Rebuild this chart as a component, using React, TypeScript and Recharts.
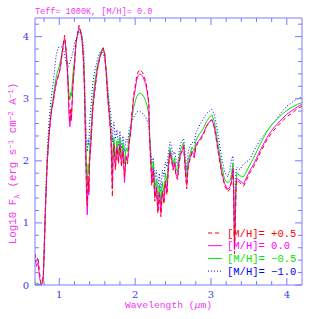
import React from 'react';
import { LineChart, Line, XAxis, YAxis } from 'recharts';

// wavelength grid in micron
const wavelength = [
  0.68, 0.70, 0.72, 0.74, 0.76, 0.78, 0.79, 0.80, 0.82, 0.84,
  0.86, 0.88, 0.90, 0.92, 0.94, 0.96, 0.98, 1.00, 1.02, 1.04,
  1.06, 1.07, 1.08, 1.10, 1.11, 1.12, 1.13, 1.14, 1.15, 1.16,
  1.18, 1.20, 1.22, 1.24, 1.26, 1.27, 1.28, 1.30, 1.32, 1.33,
  1.34, 1.35, 1.36, 1.37, 1.38, 1.39, 1.40, 1.42, 1.44, 1.46,
  1.48, 1.50, 1.52, 1.54, 1.56, 1.58, 1.60, 1.62, 1.64, 1.66,
  1.68, 1.70, 1.71, 1.72, 1.74, 1.76, 1.78, 1.80, 1.82, 1.84,
  1.86, 1.88, 1.90, 1.92, 1.94, 1.96, 1.98, 2.00, 2.02, 2.04,
  2.06, 2.08, 2.10, 2.12, 2.14, 2.16, 2.18, 2.19, 2.20, 2.22,
  2.24, 2.26, 2.28, 2.30, 2.32, 2.34, 2.36, 2.38, 2.40, 2.42,
  2.44, 2.46, 2.48, 2.50, 2.52, 2.54, 2.56, 2.58, 2.60, 2.62,
  2.64, 2.66, 2.68, 2.70, 2.72, 2.75, 2.78, 2.80, 2.83, 2.86,
  2.90, 2.94, 2.98, 3.01, 3.04, 3.06, 3.10, 3.14, 3.18, 3.22,
  3.25, 3.27, 3.29, 3.30, 3.31, 3.32, 3.33, 3.34, 3.38, 3.43,
  3.51, 3.56, 3.65, 3.74, 3.80, 3.87, 3.94, 4.00, 4.08, 4.14,
  4.20,
];

// [M/H] = +0.5
const fluxP05 = [
  0.50, 0.38, 0.45, 0.20, 0.02, 0.05, 0.15, 0.50, 1.30, 1.95,
  2.35, 2.62, 2.83, 2.95, 3.12, 3.25, 3.33, 3.40, 3.55, 3.75,
  3.95, 4.02, 3.92, 3.62, 3.40, 3.15, 2.80, 2.62, 2.85, 2.70,
  3.25, 3.55, 3.90, 4.05, 4.18, 4.15, 4.10, 3.95, 3.60, 3.25,
  2.70, 2.10, 1.55, 1.28, 1.75, 1.50, 2.00, 2.35, 2.80, 3.05,
  3.25, 3.45, 3.58, 3.68, 3.76, 3.82, 3.72, 3.40, 3.00, 2.72,
  2.40, 1.42, 2.10, 2.25, 1.85, 2.20, 1.95, 2.25, 1.90, 2.15,
  1.75, 2.05, 1.95, 2.25, 2.45, 2.80, 3.06, 3.20, 3.36, 3.43,
  3.47, 3.45, 3.42, 3.35, 3.28, 3.15, 2.95, 2.40, 2.10, 1.60,
  1.85, 1.35, 1.55, 1.15, 1.45, 1.10, 1.50, 1.30, 1.65, 1.45,
  1.90, 2.13, 2.00, 1.85, 1.95, 1.75, 1.70, 1.95, 2.10, 2.15,
  2.23, 1.85, 1.55, 1.90, 2.00, 2.13, 2.05, 2.22, 2.29, 2.33,
  2.42, 2.55, 2.62, 2.66, 2.55, 2.42, 2.10, 1.80, 1.60, 1.50,
  1.55, 1.65, 1.85, 1.40, 0.50, 0.95, 1.55, 1.69, 1.65, 1.59,
  1.80, 1.90, 2.13, 2.34, 2.45, 2.55, 2.64, 2.71, 2.78, 2.84,
  2.88,
];

// [M/H] = 0.0
const fluxZ00 = [
  0.42, 0.30, 0.36, 0.12, 0.00, 0.04, 0.14, 0.48, 1.28, 1.93,
  2.33, 2.60, 2.82, 2.95, 3.12, 3.26, 3.35, 3.42, 3.56, 3.76,
  3.93, 3.98, 3.90, 3.60, 3.35, 3.05, 2.70, 2.55, 2.75, 2.65,
  3.22, 3.52, 3.88, 4.03, 4.14, 4.13, 4.08, 3.94, 3.60, 3.22,
  2.65, 2.00, 1.40, 1.13, 1.70, 1.45, 1.98, 2.33, 2.80, 3.05,
  3.26, 3.46, 3.58, 3.68, 3.76, 3.80, 3.70, 3.38, 3.00, 2.72,
  2.42, 1.55, 2.12, 2.28, 1.90, 2.22, 2.00, 2.27, 1.95, 2.18,
  1.65, 2.08, 2.00, 2.27, 2.45, 2.76, 3.00, 3.14, 3.30, 3.37,
  3.40, 3.39, 3.36, 3.30, 3.23, 3.10, 2.92, 2.42, 2.15, 1.65,
  1.88, 1.40, 1.58, 1.20, 1.50, 1.15, 1.52, 1.35, 1.68, 1.50,
  1.92, 2.15, 2.03, 1.88, 1.98, 1.78, 1.73, 1.98, 2.12, 2.17,
  2.25, 1.88, 1.60, 1.93, 2.03, 2.16, 2.08, 2.25, 2.31, 2.36,
  2.44, 2.56, 2.63, 2.67, 2.57, 2.44, 2.13, 1.83, 1.63, 1.54,
  1.58, 1.68, 1.88, 1.45, 0.60, 1.00, 1.58, 1.72, 1.68, 1.63,
  1.84, 1.94, 2.17, 2.38, 2.49, 2.59, 2.68, 2.75, 2.82, 2.87,
  2.91,
];

// [M/H] = -0.5
const fluxM05 = [
  0.05, 0.02, 0.03, 0.00, 0.00, 0.03, 0.15, 0.52, 1.32, 1.98,
  2.38, 2.66, 2.88, 3.02, 3.20, 3.35, 3.45, 3.52, 3.64, 3.78,
  3.90, 3.93, 3.88, 3.65, 3.45, 3.25, 3.05, 2.98, 3.10, 3.05,
  3.40, 3.62, 3.90, 4.02, 4.12, 4.13, 4.10, 3.98, 3.68, 3.35,
  2.85, 2.30, 1.85, 1.60, 1.95, 1.80, 2.20, 2.52, 2.92, 3.18,
  3.36, 3.52, 3.62, 3.72, 3.79, 3.82, 3.72, 3.45, 3.10, 2.82,
  2.55, 1.80, 2.25, 2.38, 2.05, 2.32, 2.12, 2.38, 2.08, 2.28,
  1.95, 2.20, 2.15, 2.38, 2.52, 2.70, 2.85, 2.95, 3.03, 3.07,
  3.09, 3.08, 3.06, 3.02, 2.96, 2.88, 2.75, 2.45, 2.25, 1.80,
  1.98, 1.55, 1.70, 1.35, 1.62, 1.30, 1.65, 1.50, 1.80, 1.65,
  2.00, 2.20, 2.10, 1.95, 2.05, 1.88, 1.82, 2.05, 2.18, 2.24,
  2.30, 1.98, 1.72, 2.02, 2.10, 2.22, 2.16, 2.32, 2.40, 2.45,
  2.52, 2.63, 2.70, 2.74, 2.65, 2.52, 2.22, 1.92, 1.70, 1.64,
  1.68, 1.78, 1.96, 1.55, 0.70, 1.10, 1.68, 1.80, 1.76, 1.74,
  1.93, 2.04, 2.27, 2.48, 2.58, 2.67, 2.75, 2.81, 2.87, 2.91,
  2.94,
];

// [M/H] = -1.0
const fluxM10 = [
  0.02, 0.00, 0.02, 0.00, 0.00, 0.04, 0.18, 0.60, 1.45, 2.10,
  2.55, 2.85, 3.08, 3.25, 3.50, 3.70, 3.80, 3.84, 3.84, 3.83,
  3.78, 3.72, 3.65, 3.55, 3.50, 3.52, 3.56, 3.60, 3.62, 3.65,
  3.76, 3.88, 3.96, 4.02, 4.06, 4.08, 4.07, 4.02, 3.82, 3.55,
  3.10, 2.65, 2.30, 2.15, 2.35, 2.25, 2.62, 2.90, 3.22, 3.40,
  3.52, 3.62, 3.70, 3.75, 3.76, 3.72, 3.62, 3.45, 3.18, 2.92,
  2.75, 2.30, 2.55, 2.62, 2.35, 2.50, 2.25, 2.48, 2.20, 2.40,
  2.15, 2.35, 2.30, 2.48, 2.58, 2.64, 2.70, 2.74, 2.78, 2.80,
  2.80, 2.78, 2.76, 2.73, 2.70, 2.64, 2.58, 2.40, 2.25, 1.95,
  2.05, 1.70, 1.85, 1.55, 1.80, 1.50, 1.85, 1.75, 1.98, 1.90,
  2.15, 2.30, 2.22, 2.10, 2.15, 2.02, 1.92, 2.15, 2.28, 2.32,
  2.36, 2.10, 1.85, 2.15, 2.22, 2.30, 2.28, 2.45, 2.52, 2.60,
  2.68, 2.76, 2.80, 2.83, 2.76, 2.66, 2.38, 2.05, 1.82, 1.74,
  1.85, 2.02, 2.08, 1.70, 0.80, 1.30, 1.85, 1.90, 1.86, 1.95,
  2.02, 2.15, 2.34, 2.48, 2.58, 2.68, 2.80, 2.88, 2.95, 3.00,
  3.03,
];

const xTicks = [
  0.8, 1, 1.2, 1.4, 1.6, 1.8, 2, 2.2, 2.4, 2.6, 2.8, 3, 3.2, 3.4, 3.6, 3.8, 4,
];
const yTicks = [
  0, 0.2, 0.4, 0.6, 0.8, 1, 1.2, 1.4, 1.6, 1.8, 2, 2.2, 2.4, 2.6, 2.8, 3,
  3.2, 3.4, 3.6, 3.8, 4, 4.2,
];

const legendItems = [
  { label: '[M/H]= +0.5', color: '#ff0000', dash: '4 3' },
  { label: '[M/H]= 0.0', color: '#ff00ff', dash: undefined },
  { label: '[M/H]= \u22120.5', color: '#00e600', dash: undefined },
  { label: '[M/H]= \u22121.0', color: '#0000ff', dash: '1 2' },
];

const data = wavelength.map((w, i) => ({
  w,
  p05: fluxP05[i],
  z00: fluxZ00[i],
  m05: fluxM05[i],
  m10: fluxM10[i],
}));

const FRAME = '#7a7aff';
const TICK_TEXT = '#3c3ce6';
const PINK = '#f038f0';
const MONO = '"Liberation Mono", monospace';
const SERIF = '"DejaVu Serif", serif';

const isMajor = (v: number) => Math.abs(v - Math.round(v)) < 1e-6;

function BottomTick(props: any) {
  const { x, y, payload } = props;
  const major = isMajor(payload.value);
  return (
    <g>
      <line x1={x} x2={x} y1={y} y2={y - (major ? 7 : 4)} stroke={FRAME} />
      {major && (
        <text x={x} y={y + 13} textAnchor="middle" fontSize={10} fontFamily={SERIF} fill={TICK_TEXT}>
          {payload.value}
        </text>
      )}
    </g>
  );
}

function TopTick(props: any) {
  const { x, y, payload } = props;
  const major = isMajor(payload.value);
  return <line x1={x} x2={x} y1={y} y2={y + (major ? 7 : 4)} stroke={FRAME} />;
}

function LeftTick(props: any) {
  const { x, y, payload } = props;
  const major = isMajor(payload.value);
  return (
    <g>
      <line x1={x} x2={x + (major ? 7 : 4)} y1={y} y2={y} stroke={FRAME} />
      {major && (
        <text x={x - 6} y={y + 3.5} textAnchor="end" fontSize={10} fontFamily={SERIF} fill={TICK_TEXT}>
          {payload.value}
        </text>
      )}
    </g>
  );
}

function RightTick(props: any) {
  const { x, y, payload } = props;
  const major = isMajor(payload.value);
  return <line x1={x} x2={x - (major ? 7 : 4)} y1={y} y2={y} stroke={FRAME} />;
}

export default function App() {
  return (
    <div style={{ position: 'absolute', left: 0, top: 0, width: 319, height: 319, background: '#fff' }}>
      <LineChart width={319} height={319} data={data} margin={{ top: 17, right: 16, bottom: 33, left: 34 }}>
        <XAxis
          dataKey="w"
          type="number"
          domain={[0.68, 4.2]}
          allowDataOverflow
          ticks={xTicks}
          interval={0}
          height={1}
          tickSize={0}
          tickMargin={0}
          tickLine={false}
          axisLine={{ stroke: FRAME }}
          tick={<BottomTick />}
        />
        <XAxis
          xAxisId="top"
          orientation="top"
          dataKey="w"
          type="number"
          domain={[0.68, 4.2]}
          allowDataOverflow
          ticks={xTicks}
          interval={0}
          height={1}
          tickSize={0}
          tickMargin={0}
          tickLine={false}
          axisLine={{ stroke: FRAME }}
          tick={<TopTick />}
        />
        <YAxis
          type="number"
          domain={[0, 4.3]}
          allowDataOverflow
          ticks={yTicks}
          interval={0}
          width={1}
          tickSize={0}
          tickMargin={0}
          tickLine={false}
          axisLine={{ stroke: FRAME }}
          tick={<LeftTick />}
        />
        <YAxis
          yAxisId="right"
          orientation="right"
          type="number"
          domain={[0, 4.3]}
          allowDataOverflow
          ticks={yTicks}
          interval={0}
          width={1}
          tickSize={0}
          tickMargin={0}
          tickLine={false}
          axisLine={{ stroke: FRAME }}
          tick={<RightTick />}
        />
        <Line type="linear" dataKey="m10" stroke="#0000ff" strokeWidth={1} strokeDasharray="1 2" dot={false} activeDot={false} isAnimationActive={false} />
        <Line type="linear" dataKey="m05" stroke="#00e600" strokeWidth={1} dot={false} activeDot={false} isAnimationActive={false} />
        <Line type="linear" dataKey="z00" stroke="#ff00ff" strokeWidth={1} dot={false} activeDot={false} isAnimationActive={false} />
        <Line type="linear" dataKey="p05" stroke="#ff0000" strokeWidth={1} strokeDasharray="4 3" dot={false} activeDot={false} isAnimationActive={false} />
      </LineChart>

      <svg width={319} height={319} style={{ position: 'absolute', left: 0, top: 0, pointerEvents: 'none' }}>
        <text x={35} y={14} fontSize={8.5} fontFamily={MONO} fill={PINK}>
          Teff= 1000K, [M/H]= 0.0
        </text>
        <text x={168.5} y={308} textAnchor="middle" fontSize={9.7} fontFamily={MONO} fill={PINK}>
          Wavelength (<tspan fontStyle="italic">μ</tspan>m)
        </text>
        <text transform="translate(16,163.5) rotate(-90)" textAnchor="middle" fontSize={10.8} fontFamily={MONO} fill={PINK}>
          Log10 F<tspan dy={2.5} fontSize={8}>λ</tspan>
          <tspan dy={-2.5}> (erg s</tspan>
          <tspan dy={-3.5} fontSize={7.5}>−1</tspan>
          <tspan dy={3.5}> cm</tspan>
          <tspan dy={-3.5} fontSize={7.5}>−2</tspan>
          <tspan dy={3.5}> A</tspan>
          <tspan dy={-3.5} fontSize={7.5}>−1</tspan>
          <tspan dy={3.5}>)</tspan>
        </text>
        {legendItems.map((item, i) => {
          const y = 233 + i * 12.7;
          return (
            <g key={item.label}>
              <line x1={208} x2={222} y1={y} y2={y} stroke={item.color} strokeDasharray={item.dash} />
              <text x={227} y={y + 3.5} fontSize={10.5} fontFamily={MONO} fill={item.color}>
                {item.label}
              </text>
            </g>
          );
        })}
      </svg>
    </div>
  );
}
